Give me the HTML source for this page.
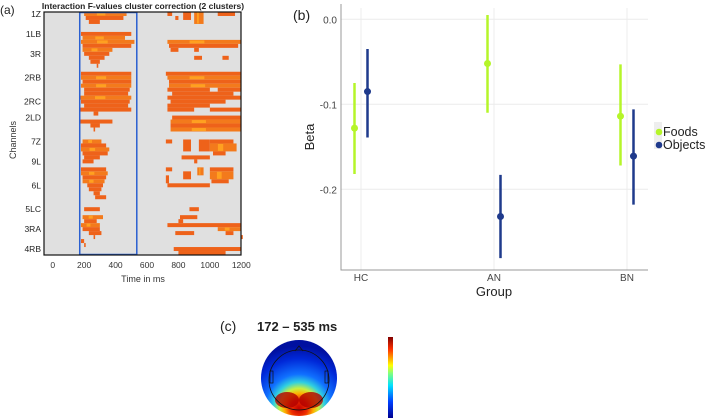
<!DOCTYPE html>
<html><head><meta charset="utf-8"><style>
body{margin:0;background:#fff;width:709px;height:420px;overflow:hidden;font-family:"Liberation Sans",sans-serif}
svg{position:absolute;left:0;top:0}
</style></head><body>
<svg width="709" height="420" xmlns="http://www.w3.org/2000/svg">
<g id="pa"></g>
<g id="pb"></g>
<g id="pc">
  <defs>
    <radialGradient id="topo" cx="0.5" cy="0.88" r="0.8" fx="0.5" fy="0.9">
      <stop offset="0" stop-color="#c00000"/><stop offset="0.14" stop-color="#f03000"/>
      <stop offset="0.24" stop-color="#ffb000"/><stop offset="0.32" stop-color="#c8f040"/>
      <stop offset="0.42" stop-color="#30d0e0"/><stop offset="0.55" stop-color="#1070ff"/>
      <stop offset="0.8" stop-color="#0028d8"/><stop offset="1" stop-color="#0010a0"/>
    </radialGradient>
    <linearGradient id="cbar" x1="0" y1="1" x2="0" y2="0">
      <stop offset="0" stop-color="#00008f"/><stop offset="0.2" stop-color="#0040ff"/>
      <stop offset="0.4" stop-color="#00e0ff"/><stop offset="0.55" stop-color="#80ff80"/>
      <stop offset="0.65" stop-color="#ffff00"/><stop offset="0.85" stop-color="#ff3000"/>
      <stop offset="1" stop-color="#800000"/>
    </linearGradient>
  </defs>
  <text x="220" y="331" font-size="14" fill="#222">(c)</text>
  <text x="257" y="331" font-size="13" font-weight="bold" fill="#222">172 – 535 ms</text>
  <circle cx="299" cy="378" r="38" fill="url(#topo)"/>
  <ellipse cx="287" cy="400" rx="12" ry="8" fill="#b00000" opacity="0.8"/>
  <ellipse cx="311" cy="400" rx="12" ry="8" fill="#b00000" opacity="0.8"/>
  <circle cx="299" cy="380" r="30" fill="none" stroke="#111" stroke-width="0.8"/>
  <path d="M295 351 L299 346 L303 351" fill="none" stroke="#111" stroke-width="0.8"/>
  <rect x="270" y="371" width="3" height="12" fill="none" stroke="#111" stroke-width="0.7"/>
  <rect x="325" y="371" width="3" height="12" fill="none" stroke="#111" stroke-width="0.7"/>
  <rect x="388" y="337" width="5" height="81" fill="url(#cbar)"/>
</g>
</svg>
<script>
// ---------- Panel (b) data ----------
const groups = ["HC","AN","BN"];
const foodsMean = [-0.128,-0.052,-0.114];
const foodsLo = [-0.182,-0.110,-0.172];
const foodsHi = [-0.075,0.005,-0.053];
const objMean = [-0.085,-0.232,-0.161];
const objLo = [-0.139,-0.281,-0.218];
const objHi = [-0.035,-0.183,-0.106];
const yTicks = [0.0,-0.1,-0.2];
const yTickLabels = ["0.0","-0.1","-0.2"];

// ---------- Panel (a) data: [rowStart,rowEnd,msStart,msEnd,hot] ----------
const channelLabels = ["1Z","1LB","3R","2RB","2RC","2LD","7Z","9L","6L","5LC","3RA","4RB"];
const channelRows = [1,6,11,17,23,27,33,38,44,50,55,60];
const segments = [
[0,1,200,470,1],[1,2,210,450,0],[2,3,230,300,0],[0,1,730,760,0],[0,2,830,880,0],[0,3,900,960,1],[0,1,1050,1160,0],[1,2,780,800,0],
[5,6,180,500,0],[6,7,190,460,1],[7,8,180,520,1],[8,9,190,500,0],[9,10,190,380,1],[10,11,200,360,0],[11,12,230,330,0],[12,13,240,300,0],[13,14,280,290,0],
[7,8,730,1200,1],[8,9,740,1180,0],[9,10,750,800,0],[9,10,900,930,0],[11,12,900,950,0],[11,12,1080,1120,0],
[15,16,180,500,0],[16,17,180,500,1],[17,18,190,500,0],[18,19,180,500,1],[19,20,200,490,0],[20,21,200,480,0],
[15,16,720,1200,0],[16,17,730,1200,1],[17,18,740,1200,0],[18,19,740,1200,1],[19,20,730,1000,0],[19,20,1050,1200,0],[20,21,760,1150,0],
[21,22,170,500,1],[22,23,180,490,0],[23,24,200,480,0],[24,25,170,500,0],[25,26,260,290,0],
[21,22,730,1200,0],[22,23,750,1100,0],[23,24,730,1000,0],[24,25,730,900,0],[24,25,1000,1200,0],
[27,28,170,380,0],[28,29,240,300,0],[29,30,260,270,0],
[26,27,760,1200,0],[27,28,750,1200,1],[28,29,750,1200,0],[29,30,750,1200,1],
[32,33,190,310,1],[33,34,180,340,0],[34,35,180,360,1],[35,36,190,350,0],[36,37,200,300,0],[37,38,190,260,0],
[32,33,720,760,0],[32,35,830,880,0],[32,35,930,1000,0],[32,33,1000,1150,0],[33,35,1000,1170,1],[35,36,1020,1100,0],[36,37,820,1000,0],[37,38,900,920,0],
[39,40,180,340,0],[40,41,180,350,1],[41,42,190,340,0],[42,43,190,330,1],[43,44,220,320,0],[44,45,230,310,0],[45,46,260,300,0],[46,47,270,340,0],
[39,40,720,760,0],[40,42,830,880,0],[39,41,920,960,1],[39,40,1000,1150,0],[40,42,1000,1150,1],[42,43,1010,1120,0],[43,44,730,1000,0],[41,43,720,740,0],
[49,50,200,300,0],[51,52,190,320,1],[52,53,200,280,0],[53,54,180,300,1],[54,55,190,300,0],[55,56,230,310,0],[56,57,260,270,0],
[49,50,870,930,0],[51,52,810,920,0],[52,53,800,830,0],[53,54,730,1200,0],[54,55,1050,1200,1],[55,56,780,900,0],[55,56,1100,1150,0],[56,57,1200,1200,0],
[57,58,180,200,0],[58,59,200,210,0],[59,60,770,1200,0],[60,61,800,1100,0]
];

const NS='http://www.w3.org/2000/svg';
function mk(tag,attrs,parent){const e=document.createElementNS(NS,tag);for(const k in attrs)e.setAttribute(k,attrs[k]);parent.appendChild(e);return e;}

// Panel (a)
const pa=document.getElementById('pa');
const ax0=44,ax1=241,ay0=12,ay1=255;
const xA=ms=>52.7+ms*(241.3-52.7)/1200;
const rowH=(ay1-ay0)/61;
const yA=r=>ay0+r*rowH;
let t=mk('text',{x:0,y:14,'font-size':12,fill:'#222'},pa);t.textContent='(a)';


t=mk('text',{x:143,y:9,'font-size':8.5,'font-weight':'bold','text-anchor':'middle',fill:'#222'},pa);t.textContent='Interaction F-values cluster correction (2 clusters)';


const bg=mk('rect',{x:ax0,y:ay0,width:ax1-ax0,height:ay1-ay0,fill:'#e0e0e0',stroke:'#111','stroke-width':1},pa);


segments.forEach((s,i)=>{
  const r=mk('rect',{x:xA(s[2]),y:yA(s[0]),width:Math.max(1.5,xA(s[3])-xA(s[2])),height:(s[1]-s[0])*rowH,fill:s[4]?'#f37a1c':'#ee621a'},pa);
  
  
  if(s[4]){const h=mk('rect',{x:xA(s[2]+(s[3]-s[2])*0.3),y:yA(s[0])+0.5,width:(xA(s[3])-xA(s[2]))*0.2,height:(s[1]-s[0])*rowH-1,fill:'#ffa020'},pa);
    
    }
});
const box=mk('rect',{x:xA(172),y:ay0+0.5,width:xA(535)-xA(172),height:ay1-ay0-1,fill:'none',stroke:'#2a5fd0','stroke-width':1.5},pa);


mk('rect',{x:ax0,y:ay0,width:ax1-ax0,height:ay1-ay0,fill:'none',stroke:'#111','stroke-width':1.2},pa);
channelLabels.forEach((l,i)=>{
  const y=yA(channelRows[i]-0.5);
  const tx=mk('text',{x:41,y:y+3,'font-size':8.5,'text-anchor':'end',fill:'#222'},pa);tx.textContent=l;
  
  
});
[0,200,400,600,800,1000,1200].forEach(v=>{
  const tx=mk('text',{x:xA(v),y:268,'font-size':8.5,'text-anchor':'middle',fill:'#333'},pa);tx.textContent=v;
  
  
});
t=mk('text',{x:143,y:282,'font-size':9,'text-anchor':'middle',fill:'#333'},pa);t.textContent='Time in ms';


t=mk('text',{x:16,y:140,'font-size':9,'text-anchor':'middle',fill:'#333',transform:'rotate(-90 16 140)'},pa);t.textContent='Channels';



// Panel (b)
const pb=document.getElementById('pb');
const bx0=341,bx1=648,by1=270;
const yB=v=>19.3-v*850;
const xB=i=>361+i*133;
t=mk('text',{x:293,y:20,'font-size':14,fill:'#222'},pb);t.textContent='(b)';


yTicks.forEach((v,i)=>{
  mk('line',{x1:bx0,x2:bx1,y1:yB(v),y2:yB(v),stroke:'#ececec','stroke-width':1},pb);
  const tx=mk('text',{x:337,y:yB(v)+4,'font-size':10,'text-anchor':'end',fill:'#444'},pb);tx.textContent=yTickLabels[i];
  
  
});
groups.forEach((g,i)=>{
  mk('line',{x1:xB(i),x2:xB(i),y1:8,y2:by1,stroke:'#ececec','stroke-width':1},pb);
  const tx=mk('text',{x:xB(i),y:281,'font-size':10,'text-anchor':'middle',fill:'#444'},pb);tx.textContent=g;
  
  
});
mk('path',{d:`M${bx0} 4 V${by1} H${bx1}`,fill:'none',stroke:'#999','stroke-width':1},pb);
function series(mean,lo,hi,dx,col,name){
  mean.forEach((m,i)=>{
    const x=xB(i)+dx;
    const l=mk('line',{x1:x,x2:x,y1:yB(hi[i]),y2:yB(lo[i]),stroke:col,'stroke-width':2.5},pb);
    
    
    const c=mk('circle',{cx:x,cy:yB(m),r:3.5,fill:col},pb);
    
    
  });
}
series(foodsMean,foodsLo,foodsHi,-6.5,'#b5f52a','foods');
series(objMean,objLo,objHi,6.5,'#1f3a8c','objects');
t=mk('text',{x:494,y:296,'font-size':13,'text-anchor':'middle',fill:'#222'},pb);t.textContent='Group';


t=mk('text',{x:314,y:137,'font-size':13,'text-anchor':'middle',fill:'#222',transform:'rotate(-90 314 137)'},pb);t.textContent='Beta';


mk('rect',{x:654,y:122,width:8,height:27,fill:'#eeeeee'},pb);
[['Foods','#b5f52a',136],['Objects','#1f3a8c',149]].forEach(e=>{
  const c=mk('circle',{cx:659,cy:e[2]-4,r:3.3,fill:e[1]},pb);
  
  
  const tx=mk('text',{x:663,y:e[2],'font-size':12.5,fill:'#222'},pb);tx.textContent=e[0];
  
  
});
</script>
</body></html>
